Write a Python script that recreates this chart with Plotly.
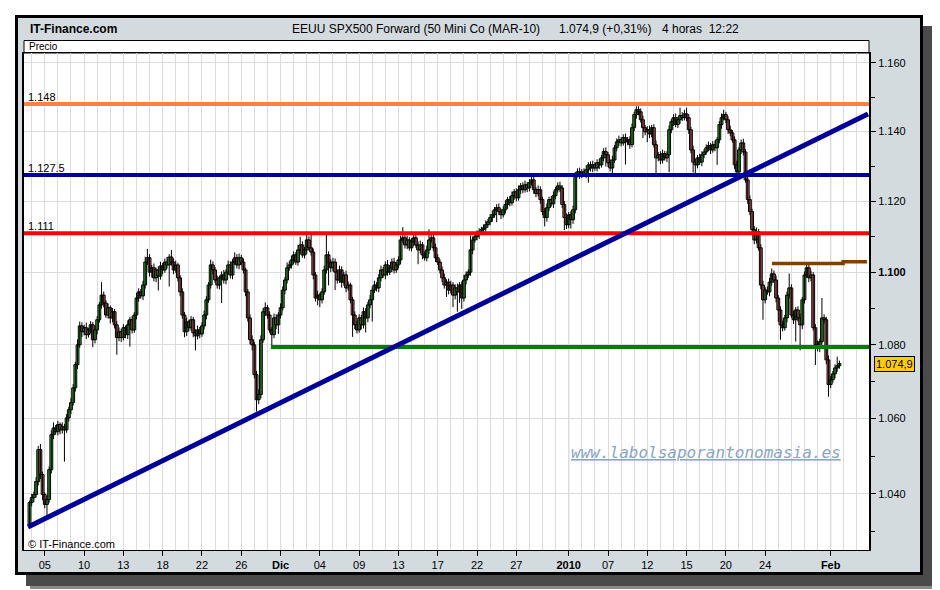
import math
import plotly.graph_objects as go

# ---------------- data ----------------
days = [
    "2009-11-04", "2009-11-05", "2009-11-06", "2009-11-09", "2009-11-10", "2009-11-11",
    "2009-11-12", "2009-11-13", "2009-11-16", "2009-11-17", "2009-11-18", "2009-11-19",
    "2009-11-20", "2009-11-23", "2009-11-24", "2009-11-25", "2009-11-26", "2009-11-27",
    "2009-11-30", "2009-12-01", "2009-12-02", "2009-12-03", "2009-12-04", "2009-12-07",
    "2009-12-08", "2009-12-09", "2009-12-10", "2009-12-11", "2009-12-14", "2009-12-15",
    "2009-12-16", "2009-12-17", "2009-12-18", "2009-12-21", "2009-12-22", "2009-12-23",
    "2009-12-24", "2009-12-28", "2009-12-29", "2009-12-30", "2009-12-31", "2010-01-04",
    "2010-01-05", "2010-01-06", "2010-01-07", "2010-01-08", "2010-01-11", "2010-01-12",
    "2010-01-13", "2010-01-14", "2010-01-15", "2010-01-18", "2010-01-19", "2010-01-20",
    "2010-01-21", "2010-01-22", "2010-01-25", "2010-01-26", "2010-01-27", "2010-01-28",
    "2010-01-29", "2010-02-01",
]
BARS_PER_DAY = 6          # 4-hour bars
first_open = 1031.9

closes = [
    1037.7, 1039.0, 1039.8, 1043.2, 1051.7, 1045.1, 1039.8, 1037.2, 1038.5, 1046.4,
    1055.7, 1057.5, 1056.5, 1058.4, 1057.0, 1057.8, 1057.0, 1060.2, 1062.4, 1064.3,
    1068.3, 1074.6, 1080.0, 1085.2, 1083.6, 1084.7, 1082.8, 1084.1, 1085.5, 1081.4,
    1084.1, 1086.9, 1091.0, 1093.7, 1091.5, 1088.2, 1090.2, 1087.4, 1089.1, 1085.5,
    1082.0, 1083.6, 1082.0, 1084.7, 1082.8, 1085.5, 1086.9, 1084.1, 1088.2, 1092.9,
    1094.6, 1093.5, 1096.5, 1102.9, 1104.1, 1100.1, 1101.3, 1098.5, 1100.7, 1099.0,
    1101.8, 1100.7, 1102.9, 1102.1, 1104.3, 1102.9, 1100.7, 1102.1, 1098.5, 1094.6,
    1088.2, 1083.6, 1086.3, 1084.7, 1086.9, 1083.3, 1082.5, 1084.1, 1083.0, 1085.2,
    1088.2, 1092.4, 1096.5, 1102.1, 1100.7, 1097.9, 1096.5, 1098.5, 1099.3, 1097.9,
    1100.1, 1102.1, 1099.3, 1102.9, 1104.1, 1102.1, 1104.1, 1102.9, 1100.7, 1094.6,
    1087.4, 1081.4, 1080.0, 1071.9, 1065.1, 1066.5, 1081.4, 1089.1, 1090.2, 1088.2,
    1084.1, 1082.8, 1087.4, 1085.5, 1088.2, 1090.2, 1095.1, 1097.9, 1101.3, 1102.1,
    1103.5, 1104.9, 1102.9, 1106.3, 1107.7, 1104.9, 1106.3, 1109.1, 1106.9, 1105.7,
    1099.3, 1092.9, 1093.7, 1092.4, 1094.6, 1100.7, 1104.9, 1102.9, 1101.3, 1102.9,
    1100.1, 1097.9, 1100.7, 1097.3, 1099.3, 1095.7, 1096.5, 1092.4, 1088.2, 1085.5,
    1084.1, 1087.4, 1085.5, 1089.1, 1087.4, 1091.0, 1092.4, 1095.1, 1096.5, 1095.7,
    1098.5, 1100.7, 1099.3, 1102.1, 1100.1, 1101.3, 1102.9, 1100.7, 1102.1, 1103.5,
    1109.1, 1109.7, 1107.7, 1109.1, 1106.9, 1108.6, 1109.7, 1107.7, 1106.3, 1107.7,
    1104.9, 1104.1, 1106.3, 1109.1, 1109.7, 1106.9, 1104.1, 1102.9, 1100.7, 1098.5,
    1096.5, 1097.3, 1095.1, 1096.5, 1093.7, 1095.7, 1094.6, 1096.5, 1092.9, 1097.9,
    1099.3, 1100.1, 1106.3, 1109.1, 1110.0, 1110.6, 1111.4, 1112.0, 1112.5, 1113.4,
    1114.2, 1115.4, 1116.2, 1117.6, 1118.2, 1117.1, 1116.2, 1117.6, 1119.1, 1120.5,
    1119.6, 1121.6, 1122.7, 1121.0, 1123.3, 1124.4, 1123.3, 1124.7, 1123.8, 1125.3,
    1126.1, 1123.3, 1122.2, 1123.3, 1120.5, 1117.1, 1115.4, 1118.2, 1120.5, 1119.3,
    1121.6, 1123.3, 1124.4, 1123.8, 1119.1, 1115.4, 1113.4, 1116.2, 1114.8, 1117.6,
    1127.6, 1128.4, 1127.6, 1128.4, 1127.8, 1129.0, 1130.4, 1129.5, 1130.4, 1129.5,
    1131.0, 1130.4, 1132.4, 1134.2, 1133.3, 1131.0, 1129.5, 1131.8, 1135.3, 1137.0,
    1137.6, 1136.7, 1138.2, 1137.0, 1137.6, 1136.2, 1141.1, 1144.9, 1146.3, 1145.7,
    1143.4, 1141.1, 1139.9, 1140.5, 1139.3, 1141.1, 1136.2, 1132.4, 1133.3, 1131.8,
    1133.6, 1132.4, 1133.3, 1140.5, 1142.8, 1144.0, 1142.0, 1143.4, 1144.6, 1144.0,
    1145.1, 1144.0, 1140.5, 1134.7, 1131.2, 1130.4, 1132.4, 1131.2, 1133.3, 1134.1,
    1135.3, 1135.9, 1134.7, 1136.2, 1135.3, 1137.6, 1142.0, 1144.0, 1144.9, 1143.4,
    1140.5, 1139.6, 1137.6, 1130.4, 1128.4, 1134.7, 1136.7, 1134.1, 1126.1, 1120.5,
    1117.1, 1112.0, 1109.1, 1111.4, 1106.9, 1096.5, 1092.4, 1095.1, 1094.6, 1097.3,
    1099.6, 1097.9, 1092.9, 1089.6, 1085.5, 1084.7, 1087.4, 1093.7, 1095.7, 1088.2,
    1086.9, 1089.6, 1087.4, 1085.5, 1092.4, 1099.3, 1101.3, 1098.5, 1099.3, 1084.7,
    1080.0, 1079.2, 1080.9, 1087.4, 1086.9, 1075.9, 1069.2, 1070.5, 1072.1, 1073.7,
    1074.3, 1074.9,
]

wick_up = [
    0.5, 1.0, 0.8, 1.2, 1.0, 1.5, 0.8, 0.6, 1.0, 0.8,
    1.2, 1.5, 0.8, 1.0, 0.6, 1.2, 0.8, 1.0, 0.8, 1.2,
    1.0, 0.8, 1.5, 1.2, 1.0, 0.8, 1.4, 0.6, 1.0, 0.8,
    1.2, 1.0, 0.8, 3.6, 1.0, 0.8, 1.2, 0.6, 1.0, 0.8,
    1.0, 1.2, 0.8, 1.0, 0.6, 1.2, 0.8, 1.0, 0.8, 1.4,
    1.0, 0.8, 1.2, 1.5, 2.5, 1.0, 0.8, 1.2, 0.6, 1.0,
    1.2, 0.8, 1.0, 1.4, 0.8, 2.0, 1.0, 1.2, 0.6, 0.8,
    1.0, 0.8, 1.2, 0.6, 1.0, 0.8, 1.0, 1.2, 0.8, 1.0,
    1.2, 1.0, 0.8, 1.5, 1.0, 0.8, 1.2, 0.6, 1.0, 1.4,
    0.8, 1.2, 1.0, 0.8, 1.5, 1.0, 1.2, 0.8, 1.0, 0.6,
    0.8, 1.0, 1.2, 0.8, 1.0, 1.5, 1.2, 1.0, 1.5, 0.8,
    1.0, 0.8, 1.2, 1.0, 0.8, 1.2, 1.0, 0.8, 1.5, 1.0,
    1.2, 1.0, 0.8, 1.4, 2.3, 1.0, 0.8, 2.3, 1.0, 4.0,
    1.0, 0.8, 1.2, 0.6, 1.0, 1.2, 6.0, 1.0, 0.8, 1.2,
    1.0, 0.8, 1.2, 1.0, 0.8, 1.2, 1.0, 0.6, 0.8, 1.0,
    1.2, 1.0, 0.8, 1.2, 1.0, 0.8, 1.4, 1.0, 1.2, 0.8,
    1.0, 1.2, 0.8, 1.0, 1.4, 0.8, 1.0, 1.2, 0.8, 1.0,
    1.2, 3.0, 1.0, 1.2, 0.8, 1.0, 1.2, 0.8, 1.0, 1.2,
    0.8, 1.0, 1.2, 3.0, 1.0, 0.8, 1.2, 1.0, 0.8, 1.0,
    1.2, 0.8, 1.0, 1.2, 0.8, 1.0, 1.2, 0.8, 1.0, 1.4,
    1.0, 0.8, 4.0, 1.0, 0.8, 1.2, 1.0, 0.8, 1.0, 1.2,
    0.8, 1.0, 1.2, 0.8, 1.0, 1.2, 0.8, 1.0, 1.2, 0.8,
    1.0, 1.2, 0.8, 1.0, 1.2, 0.8, 1.0, 1.2, 0.8, 1.0,
    2.0, 1.0, 0.8, 1.2, 1.0, 0.8, 1.0, 1.2, 0.8, 1.0,
    1.2, 0.8, 1.0, 1.2, 0.8, 1.0, 1.2, 0.8, 1.0, 1.2,
    0.8, 1.0, 1.2, 0.8, 1.0, 1.2, 0.8, 1.0, 1.2, 0.8,
    1.0, 1.2, 0.8, 1.0, 1.2, 0.8, 1.0, 1.2, 0.8, 1.0,
    1.2, 0.8, 1.0, 1.2, 0.8, 1.0, 1.2, 0.8, 1.0, 1.0,
    1.0, 1.2, 0.8, 1.0, 1.2, 0.8, 1.0, 1.2, 0.8, 1.0,
    1.2, 0.8, 1.0, 1.2, 0.8, 1.0, 1.2, 0.8, 2.3, 1.0,
    1.2, 1.8, 1.0, 0.8, 1.2, 1.0, 0.8, 1.2, 1.0, 0.8,
    1.0, 1.2, 0.8, 1.0, 1.2, 0.8, 1.0, 1.2, 1.4, 0.8,
    1.0, 1.2, 0.8, 1.0, 1.2, 0.8, 1.0, 1.2, 0.8, 1.0,
    1.2, 0.8, 1.0, 1.2, 0.8, 1.0, 1.2, 0.8, 1.0, 1.2,
    1.5, 1.0, 1.2, 0.8, 1.0, 1.2, 0.8, 1.0, 4.0, 1.0,
    1.2, 0.8, 1.0, 1.2, 0.8, 1.0, 1.6, 1.0, 1.2, 0.8,
    1.0, 1.2, 0.8, 5.5, 1.0, 0.8, 1.2, 1.0, 0.8, 1.0,
    2.5, 0.8,
]

wick_dn = [
    0.8, 1.0, 1.2, 0.8, 1.0, 1.2, 1.5, 1.0, 3.2, 0.8,
    1.0, 1.2, 0.8, 1.0, 1.2, 1.0, 8.5, 0.8, 1.0, 1.2,
    0.8, 1.0, 1.2, 0.8, 1.5, 1.0, 1.2, 0.8, 1.0, 2.0,
    1.0, 1.2, 0.8, 1.0, 1.2, 0.8, 1.0, 1.5, 1.2, 1.0,
    4.7, 1.0, 1.2, 0.8, 1.0, 1.2, 6.0, 1.0, 0.8, 1.2,
    1.0, 0.8, 1.2, 1.0, 0.8, 1.2, 1.5, 1.0, 1.2, 4.0,
    1.0, 1.2, 0.8, 1.0, 6.0, 1.0, 1.2, 0.8, 1.0, 1.2,
    1.0, 1.5, 1.2, 1.0, 0.8, 1.2, 4.0, 1.0, 1.2, 0.8,
    1.0, 1.2, 0.8, 1.0, 1.2, 0.8, 1.0, 1.2, 7.0, 1.0,
    1.2, 0.8, 1.0, 1.2, 0.8, 1.0, 1.2, 0.8, 1.0, 1.2,
    1.0, 1.2, 1.5, 1.0, 3.2, 1.2, 1.0, 0.8, 1.2, 1.0,
    0.8, 3.0, 1.0, 1.2, 2.5, 1.0, 0.8, 1.2, 1.0, 0.8,
    1.0, 1.2, 0.8, 1.0, 1.2, 0.8, 1.0, 1.2, 0.8, 1.0,
    1.2, 1.0, 2.0, 2.0, 1.0, 0.8, 1.0, 6.5, 1.2, 1.0,
    5.0, 1.0, 0.8, 1.5, 1.0, 1.2, 0.8, 1.0, 6.0, 1.2,
    1.0, 0.8, 1.2, 1.0, 4.0, 1.2, 1.0, 6.0, 0.8, 1.0,
    1.2, 1.0, 0.8, 1.2, 1.0, 0.8, 1.2, 1.0, 0.8, 1.0,
    1.2, 0.8, 1.0, 1.2, 0.8, 1.0, 1.2, 0.8, 4.0, 1.0,
    1.2, 0.8, 1.0, 1.2, 0.8, 1.0, 1.2, 0.8, 1.0, 1.2,
    1.0, 3.3, 1.2, 1.0, 3.3, 1.2, 5.5, 3.0, 3.0, 1.0,
    1.2, 0.8, 1.0, 1.2, 0.8, 1.0, 1.2, 0.8, 1.0, 1.2,
    0.8, 1.0, 1.2, 0.8, 3.5, 1.0, 1.2, 0.8, 1.0, 1.2,
    1.0, 0.8, 1.2, 1.0, 0.8, 1.2, 1.0, 0.8, 1.2, 1.0,
    0.8, 1.2, 1.0, 0.8, 1.2, 1.0, 2.5, 1.2, 1.0, 0.8,
    1.2, 1.0, 0.8, 1.2, 1.0, 3.5, 1.2, 1.0, 2.5, 1.2,
    1.0, 0.8, 1.2, 1.0, 0.8, 1.2, 3.7, 1.0, 1.2, 0.8,
    1.0, 1.2, 0.8, 1.0, 3.4, 1.2, 1.0, 2.0, 0.8, 1.0,
    1.2, 1.0, 0.8, 6.5, 1.0, 1.2, 0.8, 1.0, 1.2, 1.0,
    0.8, 3.0, 1.0, 3.0, 1.2, 1.0, 0.8, 5.0, 1.0, 1.2,
    1.0, 0.8, 1.2, 5.0, 1.0, 1.2, 0.8, 1.0, 1.2, 1.0,
    0.8, 1.0, 1.2, 1.0, 3.0, 3.0, 1.0, 0.8, 1.2, 1.0,
    0.8, 1.0, 1.2, 0.8, 1.0, 4.9, 1.0, 1.2, 0.8, 1.0,
    1.2, 1.0, 0.8, 1.2, 1.0, 0.8, 1.2, 1.0, 0.8, 1.2,
    1.0, 0.8, 1.2, 1.0, 0.8, 1.2, 5.5, 1.0, 0.8, 1.2,
    1.0, 0.8, 1.2, 3.3, 4.1, 1.0, 0.8, 1.2, 1.0, 0.8,
    1.2, 6.0, 1.0, 7.0, 1.2, 1.0, 0.8, 1.2, 1.0, 0.8,
    5.5, 1.0, 1.2, 0.8, 1.0, 1.2, 3.3, 1.0, 0.8, 1.2,
    1.0, 0.8,
]

tick_days = ["2009-11-05", "2009-11-10", "2009-11-13", "2009-11-18", "2009-11-23",
             "2009-11-26", "2009-12-01", "2009-12-04", "2009-12-09", "2009-12-14",
             "2009-12-17", "2009-12-22", "2009-12-28", "2010-01-04", "2010-01-07",
             "2010-01-12", "2010-01-15", "2010-01-20", "2010-01-25", "2010-02-01"]
tick_text = ["05", "10", "13", "18", "22", "26", "<b>Dic</b>", "04", "09", "13",
             "17", "22", "27", "<b>2010</b>", "07", "12", "15", "20", "24", "<b>Feb</b>"]
month_start_days = ["2009-12-01", "2010-01-04", "2010-02-01"]

y_tick_vals = [1040, 1060, 1080, 1100, 1120, 1140, 1160]
y_tick_text = ["1.040", "1.060", "1.080", "<b>1.100</b>", "1.120", "1.140", "1.160"]
y_minor_vals = [1030, 1050, 1070, 1090, 1110, 1130, 1150]

level_orange = 1148.0
level_navy = 1127.5
level_red = 1111.0
level_green = 1079.4
green_start_bar = 110.6
brown_x = [340.1, 372.7, 372.7, 383.6]
brown_y = [1102.5, 1102.5, 1103.0, 1103.0]
trend_x = [-0.7, 384.1]
trend_y = [1031.3, 1145.1]
last_price = 1074.9
last_price_text = "1.074,9"

# ---------------- derived OHLC ----------------
n = len(closes)
xs = list(range(n))
opens = [first_open] + closes[:-1]
highs = [max(o, c) + w for o, c, w in zip(opens, closes, wick_up)]
lows = [min(o, c) - w for o, c, w in zip(opens, closes, wick_dn)]
body_base = [min(o, c) for o, c in zip(opens, closes)]
body_size = [max(abs(c - o), 0.15) for o, c in zip(opens, closes)]
body_color = ["#33cc33" if c >= o else "#e46a6a" for o, c in zip(opens, closes)]

wick_x, wick_y = [], []
for i in range(n):
    wick_x += [xs[i], xs[i], None]
    wick_y += [lows[i], highs[i], None]


def bar_of_day(d):
    return 1 + BARS_PER_DAY * days.index(d)


X_RANGE = [-2.52, 384.56]
Y_RANGE = [math.log10(1025.3), math.log10(1162.9)]

# page pixel geometry of the plot area (the page body adds an 8px offset)
OFF = 8
L, R, T, B = 24, 869, 53, 550
FIG_W, FIG_H = 940 - OFF, 590 - OFF


def px(x):
    return (x - L) / (R - L)


def py(y):
    return (B - y) / (B - T)


FONT = "Liberation Sans, Arial, sans-serif"

fig = go.Figure()

fig.add_trace(go.Scatter(x=wick_x, y=wick_y, mode="lines",
                         line=dict(color="black", width=1),
                         showlegend=False, hoverinfo="skip"))
fig.add_trace(go.Bar(x=xs, y=body_size, base=body_base, width=1.3,
                     marker=dict(color=body_color, line=dict(color="black", width=1)),
                     showlegend=False, hoverinfo="skip"))


def hline(x0, x1, yv, color, width):
    fig.add_trace(go.Scatter(x=[x0, x1], y=[yv, yv], mode="lines",
                             line=dict(color=color, width=width),
                             showlegend=False, hoverinfo="skip"))


hline(X_RANGE[0], X_RANGE[1], level_orange, "#ff8040", 4)
hline(X_RANGE[0], X_RANGE[1], level_navy, "#000099", 4)
hline(X_RANGE[0], X_RANGE[1], level_red, "#ff0000", 4)
hline(green_start_bar, X_RANGE[1], level_green, "#008000", 4)
fig.add_trace(go.Scatter(x=brown_x, y=brown_y, mode="lines",
                         line=dict(color="#804000", width=3.5),
                         showlegend=False, hoverinfo="skip"))
fig.add_trace(go.Scatter(x=trend_x, y=trend_y, mode="lines",
                         line=dict(color="#000099", width=5),
                         showlegend=False, hoverinfo="skip"))

shapes = [
    # soft drop shadow
    dict(type="rect", xref="paper", yref="paper", layer="below",
         x0=px(30), x1=px(939), y0=py(30), y1=py(589),
         fillcolor="#8a8a8a", line=dict(width=0)),
    dict(type="rect", xref="paper", yref="paper", layer="below",
         x0=px(26), x1=px(936), y0=py(26), y1=py(586),
         fillcolor="#4a4a4a", line=dict(width=0)),
    # window
    dict(type="rect", xref="paper", yref="paper", layer="below",
         x0=px(16.5), x1=px(921.5), y0=py(16.5), y1=py(573.5),
         fillcolor="#d3dbdf", line=dict(color="black", width=3)),
    # plot area
    dict(type="rect", xref="paper", yref="paper", layer="below",
         x0=0, x1=1, y0=0, y1=1, fillcolor="white", line=dict(width=0)),
    # "Precio" header box
    dict(type="rect", xref="paper", yref="paper", layer="below",
         x0=0, x1=1, y0=1, y1=py(40.5),
         fillcolor="white", line=dict(color="black", width=1)),
]
for d in month_start_days:
    b = bar_of_day(d)
    shapes.append(dict(type="line", xref="x", yref="paper", layer="between",
                       x0=b, x1=b, y0=0, y1=1,
                       line=dict(color="#a8a8a8", width=1)))

annotations = [
    dict(text="<b>IT-Finance.com</b>", x=px(28), y=py(28.5), xref="paper", yref="paper",
         xanchor="left", yanchor="middle", showarrow=False,
         font=dict(family=FONT, size=12, color="black")),
    dict(text="EEUU SPX500 Forward (50 Mini Co (MAR-10)", x=px(290), y=py(28.5),
         xref="paper", yref="paper", xanchor="left", yanchor="middle", showarrow=False,
         font=dict(family=FONT, size=12, color="black")),
    dict(text="1.074,9 (+0,31%)", x=px(557), y=py(28.5),
         xref="paper", yref="paper", xanchor="left", yanchor="middle", showarrow=False,
         font=dict(family=FONT, size=12, color="black")),
    dict(text="4 horas\u00a0\u00a012:22", x=px(660), y=py(28.5),
         xref="paper", yref="paper", xanchor="left", yanchor="middle", showarrow=False,
         font=dict(family=FONT, size=12, color="black")),
    dict(text="Precio", x=px(27), y=py(46.5), xref="paper", yref="paper",
         xanchor="left", yanchor="middle", showarrow=False,
         font=dict(family=FONT, size=10, color="black")),
    dict(text="\u00a9 IT-Finance.com", x=px(26), y=py(544), xref="paper", yref="paper",
         xanchor="left", yanchor="middle", showarrow=False,
         font=dict(family=FONT, size=11, color="black")),
    dict(text="www.labolsaporantonomasia.es", x=px(569), y=py(452), xref="paper",
         yref="paper", xanchor="left", yanchor="middle", showarrow=False,
         font=dict(family="DejaVu Sans Mono, monospace", size=16, color="#8aa4c8",
                   style="italic", lineposition="under")),
    dict(text=last_price_text, x=px(873.5), y=math.log10(last_price), xref="paper",
         yref="y", xanchor="left", yanchor="middle", showarrow=False,
         bgcolor="#ffcc00", bordercolor="black", borderwidth=1, borderpad=1,
         font=dict(family=FONT, size=11, color="black")),
]
for val, txt in [(level_orange, "1.148"), (level_navy, "1.127.5"), (level_red, "1.111")]:
    annotations.append(dict(text=txt, x=px(26), y=math.log10(val), xref="paper", yref="y",
                            xanchor="left", yanchor="bottom", yshift=-1, showarrow=False,
                            font=dict(family=FONT, size=11, color="black")))

fig.update_layout(
    width=FIG_W, height=FIG_H,
    margin=dict(l=L - OFF, r=940 - R, t=T - OFF, b=590 - B, pad=0),
    paper_bgcolor="white", plot_bgcolor="white",
    shapes=shapes, annotations=annotations,
    showlegend=False,
    xaxis=dict(
        range=X_RANGE,
        tickmode="array", tickvals=[bar_of_day(d) for d in tick_days], ticktext=tick_text,
        ticks="outside", ticklen=5, tickcolor="black", tickwidth=1,
        tickfont=dict(family=FONT, size=11, color="black"),
        showgrid=True, gridcolor="#dcdcdc", gridwidth=1,
        minor=dict(tick0=1, dtick=BARS_PER_DAY, showgrid=True, gridcolor="#dcdcdc",
                   gridwidth=1, ticks=""),
        zeroline=False, showline=True, linecolor="black", linewidth=1, mirror=True,
    ),
    yaxis=dict(
        type="log", side="right", range=Y_RANGE,
        tickmode="array", tickvals=y_tick_vals, ticktext=y_tick_text,
        ticks="outside", ticklen=5, tickcolor="black", tickwidth=1,
        tickfont=dict(family=FONT, size=11, color="black"),
        minor=dict(tickmode="array", tickvals=y_minor_vals, ticks="outside", ticklen=4,
                   tickcolor="black", showgrid=False),
        showgrid=True, gridcolor="#dcdcdc", gridwidth=1,
        zeroline=False, showline=True, linecolor="black", linewidth=2, mirror=True,
    ),
)

fig.write_html("out.html")
